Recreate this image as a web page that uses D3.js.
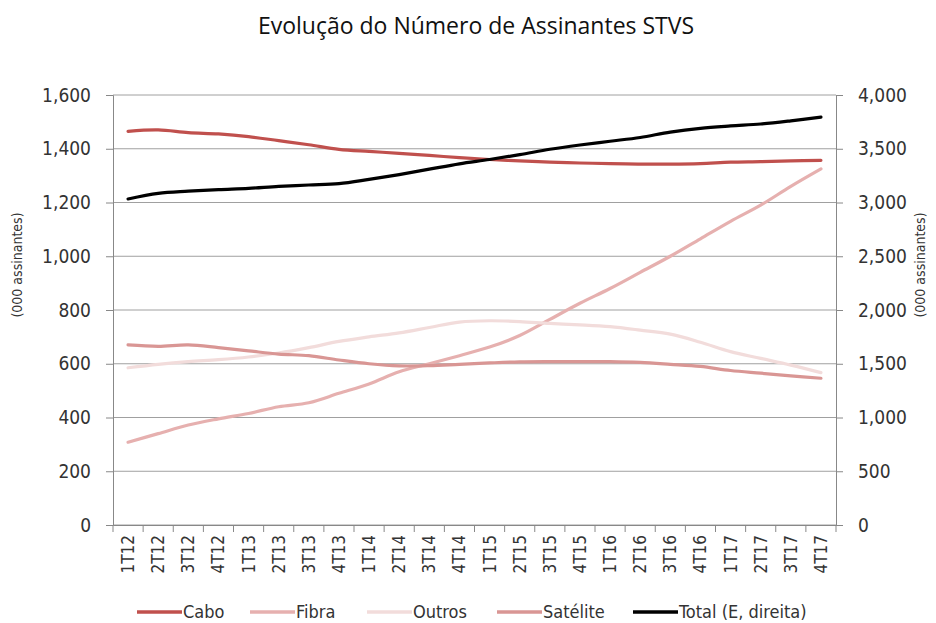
<!DOCTYPE html>
<html>
<head>
<meta charset="utf-8">
<script src="https://cdn.jsdelivr.net/npm/d3@7"></script>
<style>
  body { margin: 0; background: #fff; }
  .tick text, .lbl { font-family: "Liberation Sans Narrow", "DejaVu Sans Condensed", sans-serif; fill: #333; }
</style>
</head>
<body>
<svg id="chart" width="936" height="623"></svg>
<script>
var quarters = ["1T12","2T12","3T12","4T12","1T13","2T13","3T13","4T13","1T14","2T14","3T14","4T14",
                "1T15","2T15","3T15","4T15","1T16","2T16","3T16","4T16","1T17","2T17","3T17","4T17"];

var cabo     = [1465,1470,1460,1455,1445,1430,1415,1398,1390,1383,1375,1367,1360,1355,1350,1347,1345,1343,1343,1345,1350,1352,1355,1357];
var fibra    = [308,340,372,395,415,440,455,490,525,570,600,630,662,705,765,825,880,940,1000,1065,1130,1190,1260,1325];
var outros   = [585,598,608,615,625,640,660,683,700,715,735,755,760,757,750,745,738,725,710,680,645,620,595,567];
var satelite = [670,665,670,660,648,636,630,614,600,592,593,598,603,607,608,608,608,605,598,590,575,565,555,546];
var total    = [3033,3085,3105,3120,3132,3150,3163,3175,3215,3260,3310,3360,3400,3445,3495,3535,3570,3605,3655,3690,3712,3730,3760,3795];

var leftTicks = [0,200,400,600,800,1000,1200,1400,1600];
var rightTicks = [0,500,1000,1500,2000,2500,3000,3500,4000];

var series = [
  { name: "Cabo", values: cabo, color: "#c0504d", axis: "left" },
  { name: "Fibra", values: fibra, color: "#e6b0af", axis: "left" },
  { name: "Outros", values: outros, color: "#f2dcdb", axis: "left" },
  { name: "Satélite", values: satelite, color: "#d99694", axis: "left" },
  { name: "Total (E, direita)", values: total, color: "#000000", axis: "right" }
];

var plotL = 113, plotR = 836, plotT = 95, plotB = 525;
var svg = d3.select("#chart");
var fmt = d3.format(",");

var x = d3.scaleBand().domain(quarters).range([plotL, plotR]);
var yL = d3.scaleLinear().domain([0, 1600]).range([plotB, plotT]);
var yR = d3.scaleLinear().domain([0, 4000]).range([plotB, plotT]);

// title
svg.append("text")
  .attr("x", 476).attr("y", 34)
  .attr("text-anchor", "middle")
  .style("font-family", "'Open Sans', sans-serif")
  .style("font-size", "23px")
  .attr("fill", "#111")
  .text("Evolução do Número de Assinantes STVS");

// gridlines
svg.append("g").selectAll("line")
  .data(leftTicks)
  .enter().append("line")
    .attr("x1", plotL).attr("x2", plotR)
    .attr("y1", function(d) { return yL(d); })
    .attr("y2", function(d) { return yL(d); })
    .attr("stroke", "#a0a0a0").attr("stroke-width", 1);

// left axis
var gl = svg.append("g").attr("transform", "translate(" + plotL + ",0)")
  .call(d3.axisLeft(yL).tickValues(leftTicks).tickFormat(fmt).tickSize(7).tickPadding(15));
gl.selectAll("text").style("font-size", "19px");

// right axis
var gr = svg.append("g").attr("transform", "translate(" + plotR + ",0)")
  .call(d3.axisRight(yR).tickValues(rightTicks).tickFormat(fmt).tickSize(7).tickPadding(15));
gr.selectAll("text").style("font-size", "19px");

// x axis
var gx = svg.append("g").attr("transform", "translate(0," + plotB + ")")
  .call(d3.axisBottom(x).tickSize(0).tickPadding(0));
gx.selectAll(".tick text")
  .style("font-size", "17px")
  .attr("text-anchor", "end")
  .attr("dy", "0.35em")
  .attr("transform", "translate(0,10) rotate(-90)");
// category boundary ticks
gx.selectAll("line.bound")
  .data(quarters.concat(["end"]))
  .enter().append("line")
    .attr("class", "bound")
    .attr("x1", function(d, i) { return plotL + i * x.step(); })
    .attr("x2", function(d, i) { return plotL + i * x.step(); })
    .attr("y1", 0).attr("y2", 7)
    .attr("stroke", "#888");

svg.selectAll(".domain").attr("stroke", "#888");
svg.selectAll(".tick line").attr("stroke", "#888");

// axis titles
svg.append("text").attr("class", "lbl")
  .attr("transform", "translate(22,265) rotate(-90)")
  .attr("text-anchor", "middle")
  .style("font-size", "14px")
  .text("(000 assinantes)");
svg.append("text").attr("class", "lbl")
  .attr("transform", "translate(925,265) rotate(-90)")
  .attr("text-anchor", "middle")
  .style("font-size", "14px")
  .text("(000 assinantes)");

// lines
var cx = function(d, i) { return x(quarters[i]) + x.bandwidth() / 2; };
series.forEach(function(s) {
  var yScale = s.axis === "left" ? yL : yR;
  var line = d3.line()
    .x(cx)
    .y(function(d) { return yScale(d); })
    .curve(d3.curveCatmullRom.alpha(0.5));
  svg.append("path")
    .datum(s.values)
    .attr("d", line)
    .attr("fill", "none")
    .attr("stroke", s.color)
    .attr("stroke-width", 3.2)
    .attr("stroke-linejoin", "round")
    .attr("stroke-linecap", "round");
});

// legend
var legendX = [137, 250, 367, 497, 633];
var leg = svg.append("g");
series.forEach(function(s, i) {
  var g = leg.append("g").attr("transform", "translate(" + legendX[i] + ",612)");
  g.append("line").attr("x1", 0).attr("x2", 45).attr("y1", 0).attr("y2", 0)
    .attr("stroke", s.color).attr("stroke-width", 3.5);
  g.append("text").attr("class", "lbl")
    .attr("x", 46).attr("y", 0).attr("dy", "0.35em")
    .style("font-size", "18px")
    .text(s.name);
});
</script>
</body>
</html>
